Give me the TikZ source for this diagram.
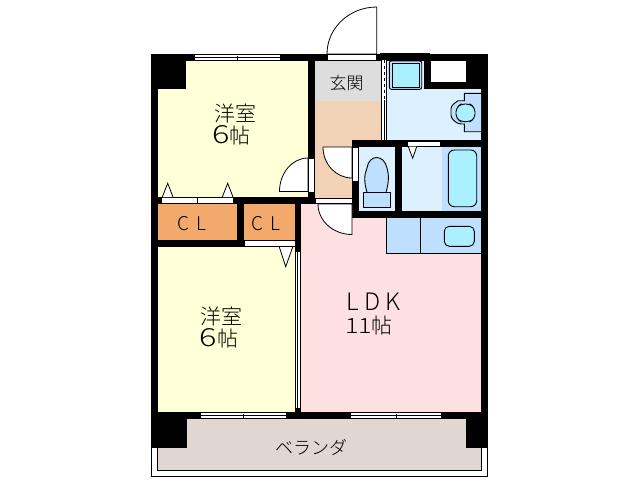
\documentclass[tikz,border=0pt]{standalone}
\usepackage{fontspec}
\setmainfont{Noto Sans CJK JP Light}
\usetikzlibrary{positioning}
\definecolor{roomyellow}{HTML}{FFFFD8}
\definecolor{closetorange}{HTML}{F4A96C}
\definecolor{hallpeach}{HTML}{F2D2B6}
\definecolor{genkangray}{HTML}{DDDDDD}
\definecolor{ldkpink}{HTML}{FFE0E0}
\definecolor{wetpale}{HTML}{DDF0FF}
\definecolor{wetblue}{HTML}{BFDFFF}
\definecolor{waterblue}{HTML}{AAF0FF}
\definecolor{balconygray}{HTML}{E0D8D0}
\tikzset{
    wall/.style={fill=black,draw=none},
    opening/.style={fill=white,draw=black,line width=0.8pt},
    swing/.style={fill=white,draw=black,line width=0.8pt},
    fixture/.style={draw=black,line width=0.9pt},
    roomlabel/.style={inner sep=0pt,font=\fontsize{21}{21}\selectfont},
    bigdigit/.style={inner sep=0pt,font=\fontsize{25}{25}\selectfont},
    smalllabel/.style={inner sep=0pt,font=\fontsize{17}{17}\selectfont},
    closetlabel/.style={inner sep=0pt,font=\fontsize{19}{19}\selectfont}
}
\begin{document}
\begin{tikzpicture}[x=1pt,y=-1pt]
    \useasboundingbox (0,0) rectangle (638,480);

    % Room floors
    \fill[roomyellow] (157,60) rectangle (309,198);
    \fill[roomyellow] (157,246) rectangle (296,413);
    \fill[closetorange] (157,203) rectangle (238,241);
    \fill[closetorange] (244,203) rectangle (295,241);
    \fill[genkangray] (315,60) rectangle (382,101);
    \fill[hallpeach] (315,101) rectangle (382,198);
    \fill[hallpeach] (315,140) rectangle (353,198);
    \fill[ldkpink] (300,203) rectangle (353,218);
    \fill[ldkpink] (300,217) rectangle (482,413);
    \fill[wetpale] (386,60) rectangle (482,141);
    \fill[wetpale] (358,146) rectangle (396,212);
    \fill[wetpale] (401,146) rectangle (442,212);
    \fill[wetblue] (442,146) rectangle (482,212);

    % Balcony
    \draw[line width=1pt] (151.5,447) -- (151.5,476.5) -- (487.5,476.5) -- (487.5,447);
    \draw[fill=balconygray,line width=1pt] (157.5,447) -- (157.5,470) -- (481.5,470) -- (481.5,447) -- (466,447) -- (466,418) -- (186,418) -- (186,447) -- cycle;

    % Outer walls and pillars
    \fill[wall] (151,54) rectangle (157.5,448);
    \fill[wall] (481,54) rectangle (488,448);
    \fill[wall] (151,54) rectangle (488,60.5);
    \fill[wall] (380,53) rectangle (430,55);
    \fill[wall] (151,54) rectangle (186,89);
    \fill[wall] (151,412) rectangle (186,448);
    \fill[wall] (466,412) rectangle (488,448);
    \fill[wall] (151,412) rectangle (488,418.5);

    % Inner walls
    \fill[wall] (308,60) rectangle (315,204);
    \fill[wall] (151,197) rectangle (315,203.5);
    \fill[wall] (237,197) rectangle (244,247);
    \fill[wall] (151,240) rectangle (244,247);
    \fill[wall] (294.5,197) rectangle (301,252);
    \fill[wall] (380.5,60) rectangle (383,101);
    \fill[wall] (352,140) rectangle (481,146.7);
    \fill[wall] (352,140) rectangle (359,217.5);
    \fill[wall] (352,211) rectangle (481,217.5);
    \fill[wall] (395,140) rectangle (402,217);
    \fill[wall] (424,54) rectangle (481,88.5);
    \fill[white] (431,60.7) rectangle (466,81.7);

    % Windows
    \foreach \xa/\xb/\ya in {195/279.5/54.5, 201/286/412.5, 351/441/412.5}
    {
        \fill[white] (\xa,\ya) rectangle (\xb,\ya+5.5);
        \foreach \yy in {0,2.7,5.5}
        {
            \draw[line width=0.8pt] (\xa,\ya+\yy) -- (\xb,\ya+\yy);
        }
        \draw[line width=0.8pt] ({(\xa+\xb)/2},\ya+1) -- ({(\xa+\xb)/2},\ya+5);
    }

    % Entrance door
    \draw[swing] (376.7,54) -- (376.7,7) arc[start angle=-90,end angle=-180,x radius=49.7,y radius=47] -- cycle;
    \draw[opening] (327,54.5) rectangle (376.7,60);

    % Door to the hall and swing
    \draw[swing] (308,191.5) -- (279.5,191.5) arc[start angle=180,end angle=270,x radius=28.5,y radius=33.5] -- cycle;
    \draw[opening] (308.5,158) rectangle (314.5,192);

    % Toilet door
    \draw[swing] (352,147) -- (323,147) arc[start angle=180,end angle=90,x radius=29,y radius=31] -- cycle;
    \draw[opening] (352.5,147) rectangle (358.5,181);

    % LDK door
    \draw[swing] (352,204) -- (318,204) arc[start angle=180,end angle=90,x radius=34,y radius=30.5] -- cycle;
    \draw[opening] (315.7,198) rectangle (352,203.5);

    % Closet doors
    \draw[opening] (161,197.5) rectangle (233.5,203);
    \draw[line width=0.8pt] (197.5,197.5) -- (197.5,204);
    \draw[opening] (244,240.5) rectangle (295,246);
    \draw[opening] (162.3,197) -- (167.7,183.3) -- (173,197);
    \draw[opening] (222.3,197) -- (227.7,183.3) -- (233,197);
    \draw[opening] (279.3,247) -- (285.7,266.7) -- (292.7,247);

    % Sliding door between the bedroom and the LDK
    \fill[white] (295,252) rectangle (301,409);
    \draw[line width=0.8pt] (295.2,252) -- (295.2,409);
    \draw[line width=0.8pt] (297.8,252) -- (297.8,409);
    \draw[line width=0.8pt] (300.5,252) -- (300.5,409);
    \fill[wall] (294.5,408) rectangle (301,413);

    % Sliding door of the washroom
    \fill[white] (381,60) rectangle (387,140);
    \draw[line width=0.8pt] (381.5,60) -- (381.5,140);
    \draw[line width=0.8pt,dashed] (384.3,60) -- (384.3,100);
    \draw[line width=0.8pt] (384.3,100) -- (384.3,140);
    \draw[line width=0.8pt] (386.7,60) -- (386.7,140);

    % Bath door
    \draw[opening] (407.3,141) rectangle (440,146);
    \draw[opening] (408.3,146.5) -- (412.7,158.3) -- (416.7,146.5);

    % Wash basin
    \draw[fixture,fill=wetblue,rounded corners=2pt] (389.3,61) rectangle (421.7,89.3);
    \draw[fixture,fill=waterblue] (392,63) rectangle (419.5,87.3);

    % Washroom toilet
    \draw[fixture,fill=wetblue] (481,93.3) -- (464.3,93.3) -- (464.3,100.7) -- (458,100.7)
        [rounded corners=3pt] -- (451,106) -- (451,118) -- (458,124) [sharp corners] -- (464.3,124) -- (464.3,131.7) -- (481,131.7);
    \draw[fixture,fill=waterblue,rounded corners=4pt] (461,104) -- (470,104) -- (475,108) -- (475,118) -- (470,121.7) -- (461,121.7) -- (456,118) -- (456,108) -- cycle;

    % Toilet
    \draw[fixture,fill=wetblue] (367,192.3) .. controls (364,182) and (364,175) .. (367,168) .. controls (369,154) and (384,154) .. (387,168) .. controls (389,175) and (389,182) .. (386,192.3);
    \draw[fixture,fill=wetblue] (363.3,192.3) rectangle (390.7,207.7);

    % Bath
    \draw[fixture,fill=waterblue,rounded corners=6pt] (448.3,150) rectangle (476.7,206.7);

    % Kitchen
    \draw[fixture,fill=wetblue] (386.7,217.5) rectangle (481,253.3);
    \draw[fixture] (420.3,217.5) -- (420.3,253.3);
    \draw[fixture,fill=waterblue,rounded corners=5pt] (444.3,226.3) rectangle (474.3,246.3);

    % Room labels
    \node[roomlabel] (bedroomtop) at (235,113) {洋室};
    \node[bigdigit] (bedroomtopsize) at (231.5,135.5) {\scalebox{1.3}[1]{6}{\fontsize{21}{21}\selectfont 帖}};
    \node[roomlabel] (bedroomlow) at (221,316) {洋室};
    \node[bigdigit] (bedroomlowsize) at (219,338) {\scalebox{1.3}[1]{6}{\fontsize{21}{21}\selectfont 帖}};
    \node[smalllabel] (genkan) at (346.5,83) {玄関};
    \node[closetlabel] (closetleft) at (192,224) {C\hspace{7pt}L};
    \node[closetlabel] (closetright) at (266,224) {C\hspace{7pt}L};
    \node[inner sep=0pt,font=\fontsize{24}{24}\selectfont] (ldk) at (373.5,302) {L\hspace{5pt}D\hspace{5pt}K};
    \node[inner sep=0pt,font=\fontsize{21}{21}\selectfont] (ldksize) at (369,326) {\scalebox{1.2}[1]{11}帖};
    \node[inner sep=0pt,font=\fontsize{18}{18}\selectfont] (balcony) at (311.5,447) {ベランダ};
\end{tikzpicture}
\end{document}
